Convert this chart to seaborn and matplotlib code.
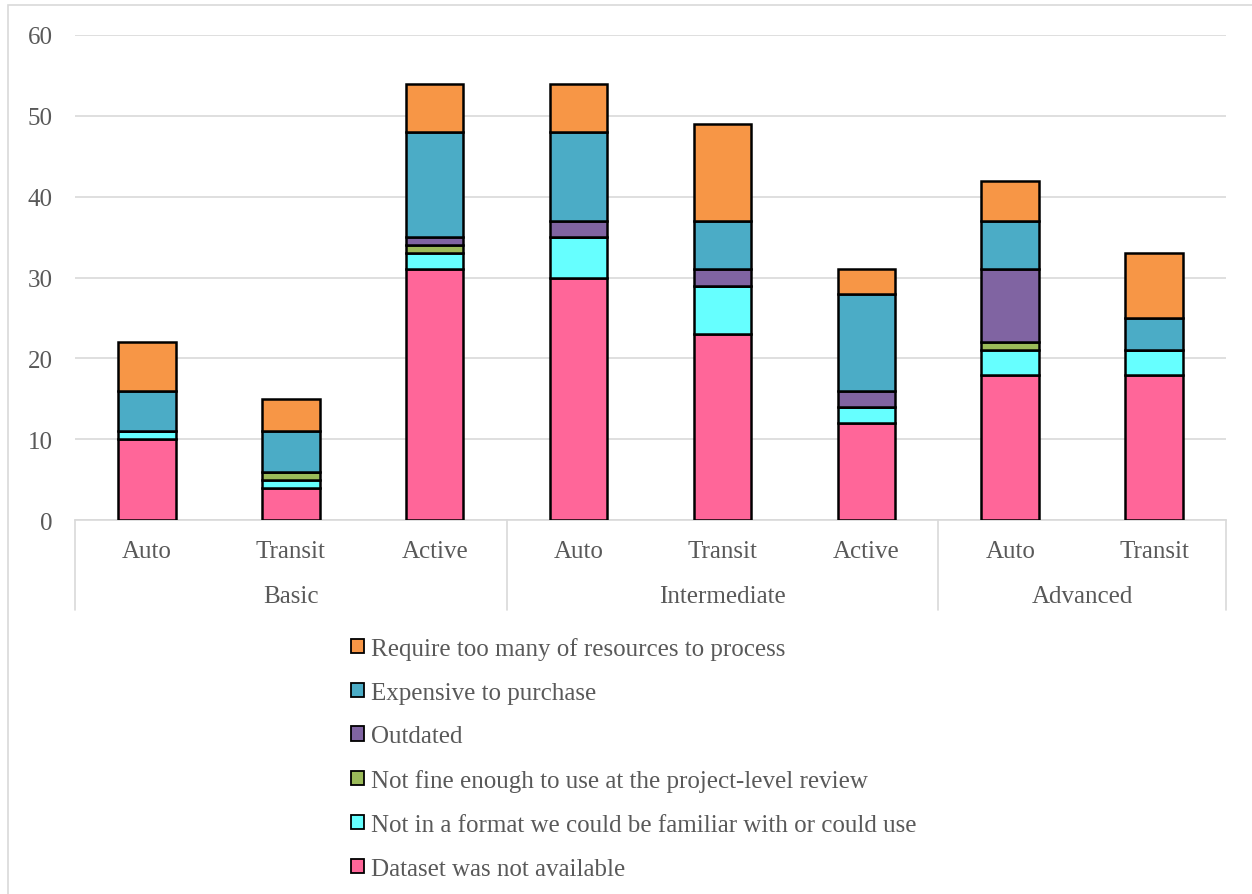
import matplotlib
matplotlib.use("Agg")
import matplotlib.pyplot as plt
from matplotlib.patches import Patch, Rectangle
from matplotlib.transforms import blended_transform_factory
import seaborn as sns
import numpy as np
import pandas as pd

# Categories
groups = ["Basic", "Intermediate", "Advanced"]
group_sizes = [3, 3, 2]
modes = ["Auto", "Transit", "Active", "Auto", "Transit", "Active", "Auto", "Transit"]

# Series values (stacked bottom to top)
not_available = [10, 4, 31, 30, 23, 12, 18, 18]
bad_format = [1, 1, 2, 5, 6, 2, 3, 3]
not_fine = [0, 1, 1, 0, 0, 0, 1, 0]
outdated = [0, 0, 1, 2, 2, 2, 9, 0]
expensive = [5, 5, 13, 11, 6, 12, 6, 4]
too_many_resources = [6, 4, 6, 6, 12, 3, 5, 8]

series_names = [
    "Dataset was not available",
    "Not in a format we could be familiar with or could use",
    "Not fine enough to use at the project-level review",
    "Outdated",
    "Expensive to purchase",
    "Require too many of resources to process",
]
series_values = [not_available, bad_format, not_fine, outdated, expensive, too_many_resources]
colors = ["#FF6699", "#66FFFF", "#9BBB59", "#8064A2", "#4BACC6", "#F79646"]

sns.set_style("white")
plt.rcParams["font.family"] = ["Liberation Serif", "DejaVu Serif"]
text_color = "#595959"
grid_color = "#D9D9D9"
fs = 18

fig = plt.figure(figsize=(12.52, 8.95), dpi=100)
ax = fig.add_axes([75 / 1252, 1 - 521 / 895, 1151 / 1252, 485 / 895])

keys = [f"{i}" for i in range(len(modes))]
bottom = np.zeros(len(modes))
for name, vals, col in zip(series_names, series_values, colors):
    vals = np.array(vals, dtype=float)
    df = pd.DataFrame({"key": keys, "value": vals})
    sns.barplot(data=df, x="key", y="value", order=keys, bottom=bottom,
                color=col, width=0.4, edgecolor="black", linewidth=1.8,
                saturation=1, ax=ax, zorder=3)
    bottom = bottom + vals

ax.set_xlim(-0.5, len(modes) - 0.5)
ax.set_ylim(0, 60)
ax.set_yticks(range(0, 61, 10))
ax.yaxis.grid(True, color=grid_color, linewidth=1.2, zorder=0)
ax.set_axisbelow(True)
for s in ["top", "right", "left"]:
    ax.spines[s].set_visible(False)
ax.spines["bottom"].set_color(grid_color)
ax.spines["bottom"].set_linewidth(1.2)
ax.tick_params(axis="y", length=0, labelsize=fs, labelcolor=text_color, pad=16)
ax.set_xticks([])
ax.set_xlabel("")
ax.set_ylabel("")

# Two-level category axis
trans = blended_transform_factory(ax.transData, ax.transAxes)
for i, m in enumerate(modes):
    ax.text(i, -0.064, m, transform=trans, ha="center", va="center",
            fontsize=fs, color=text_color)
start = 0
edges = [-0.5]
for g, n in zip(groups, group_sizes):
    center = start + (n - 1) / 2
    ax.text(center, -0.157, g, transform=trans, ha="center", va="center",
            fontsize=fs, color=text_color)
    start += n
    edges.append(start - 0.5)
for e in edges:
    ax.plot([e, e], [0, -0.186], transform=trans, color=grid_color,
            linewidth=1.2, clip_on=False)

# Legend
handles = [Patch(facecolor=c, edgecolor="black", linewidth=1.3, label=n)
           for n, c in zip(series_names, colors)][::-1]
fig.legend(handles=handles, loc="upper left", bbox_to_anchor=(341 / 1252, 1 - 628 / 895),
           frameon=False, fontsize=fs, labelcolor=text_color, handlelength=0.5,
           handleheight=0.5, handletextpad=0.3, labelspacing=0.87, borderaxespad=0)

# Outer chart frame
fig.patches.append(Rectangle((8 / 1252, -0.1), 1.2, 1 - 6 / 895 + 0.1,
                             transform=fig.transFigure, fill=False,
                             edgecolor=grid_color, linewidth=1.2))

fig.savefig("out.png", dpi=100)
